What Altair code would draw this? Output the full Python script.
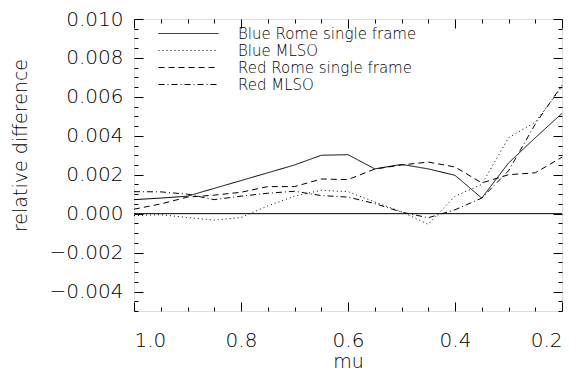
import altair as alt
import pandas as pd

# ---- data ----
mu = [1.00, 0.95, 0.90, 0.85, 0.80, 0.75, 0.70, 0.65, 0.60,
      0.55, 0.50, 0.45, 0.40, 0.35, 0.30, 0.25, 0.20]
blue_rome = [0.00072, 0.00080, 0.00090, 0.00130, 0.00170, 0.00210, 0.00250, 0.00300, 0.00303,
             0.00230, 0.00253, 0.00230, 0.00197, 0.00080, 0.00260, 0.00390, 0.00515]
blue_mlso = [-0.00010, -0.00005, -0.00020, -0.00033, -0.00020, 0.00040, 0.00090, 0.00120, 0.00113,
             0.00060, 0.00010, -0.00055, 0.00090, 0.00150, 0.00390, 0.00470, 0.00650]
red_rome = [0.00023, 0.00050, 0.00085, 0.00095, 0.00110, 0.00139, 0.00139, 0.00178, 0.00175,
            0.00229, 0.00250, 0.00265, 0.00240, 0.00158, 0.00200, 0.00210, 0.00290]
red_mlso = [0.00113, 0.00112, 0.00100, 0.00072, 0.00090, 0.00105, 0.00115, 0.00093, 0.00085,
            0.00052, 0.00008, -0.00021, 0.00020, 0.00080, 0.00220, 0.00460, 0.00660]

series_names = ["Blue Rome single frame", "Blue MLSO", "Red Rome single frame", "Red MLSO"]
series_values = [blue_rome, blue_mlso, red_rome, red_mlso]

zero_mu = [1.0, 0.2]
zero_val = [0.0, 0.0]

x_major = [1.0, 0.8, 0.6, 0.4, 0.2]
y_major = [-0.004, -0.002, 0.000, 0.002, 0.004, 0.006, 0.008, 0.010]
x_ticks = [round(1.0 - 0.05 * i, 2) for i in range(17)]
y_ticks = [round(-0.005 + 0.0005 * i, 4) for i in range(31)]

# ---- styling ----
dash_styles = [[1, 0], [1, 3], [6, 4], [6, 3, 1, 3]]
W, H = 428, 292
FONT = "DejaVu Sans"
WEIGHT = 200

rows = []
for name, vals in zip(series_names, series_values):
    for m, v in zip(mu, vals):
        rows.append({"series": name, "mu": m, "value": v})
df = pd.DataFrame(rows)
zero_df = pd.DataFrame({"mu": zero_mu, "value": zero_val})

xs = alt.Scale(domain=[0.2, 1.0], reverse=True, nice=False, zero=False)
ys = alt.Scale(domain=[-0.005, 0.010], nice=False, zero=False)

x_major_test = "abs(datum.value*5 - round(datum.value*5)) < 1e-6"
y_major_test = "abs(datum.value*500 - round(datum.value*500)) < 1e-6"


def tick_axis_x(orient):
    return alt.Axis(orient=orient, offset=-H, values=x_ticks, labels=False, domain=False,
                    grid=False, ticks=True, tickColor="black", tickWidth=1,
                    tickSize={"condition": {"test": x_major_test, "value": 9}, "value": 4},
                    title=None)


def tick_axis_y(orient):
    return alt.Axis(orient=orient, offset=-W, values=y_ticks, labels=False, domain=False,
                    grid=False, ticks=True, tickColor="black", tickWidth=1,
                    tickSize={"condition": {"test": y_major_test, "value": 9}, "value": 4},
                    title=None)


lines = alt.Chart(df).mark_line(strokeWidth=1, color="black").encode(
    x=alt.X("mu:Q", scale=xs,
            axis=alt.Axis(orient="bottom", values=x_major, format=".1f", ticks=False, tickSize=0,
                          domain=False, grid=False, labelFontSize=20, labelPadding=19,
                          labelBaseline="top", labelColor="black", labelFont=FONT,
                          labelFontWeight=WEIGHT,
                          title="mu", titleFontSize=19, titleFontWeight=WEIGHT, titleFont=FONT,
                          titleColor="black", titleY=50, titleBaseline="middle")),
    y=alt.Y("value:Q", scale=ys,
            axis=alt.Axis(orient="left", values=y_major, format=".3f", ticks=False, tickSize=0,
                          domain=False, grid=False, labelFontSize=20, labelPadding=11,
                          labelColor="black", labelFont=FONT, labelFontWeight=WEIGHT,
                          title="relative difference", titleFontSize=19, titleFontWeight=WEIGHT,
                          titleFont=FONT, titleColor="black", titleX=-114, titleY=126,
                          titleAngle=-90, titleBaseline="middle", titleAlign="center")),
    strokeDash=alt.StrokeDash(
        "series:N",
        scale=alt.Scale(domain=series_names, range=dash_styles),
        legend=alt.Legend(title=None, orient="none", legendX=24, legendY=6,
                          symbolType="stroke", symbolSize=3600, symbolStrokeWidth=1,
                          symbolStrokeColor="black", labelFontSize=15, labelFont=FONT,
                          labelFontWeight=WEIGHT,
                          labelColor="black", clipHeight=17, rowPadding=0, labelOffset=19,
                          padding=0, labelLimit=400)),
)

zero_line = alt.Chart(zero_df).mark_line(strokeWidth=1, color="black").encode(
    x=alt.X("mu:Q", scale=xs, axis=tick_axis_x("top")),
    y=alt.Y("value:Q", scale=ys, axis=tick_axis_y("right")),
)

tick_holder = alt.Chart(zero_df).mark_point(opacity=0).encode(
    x=alt.X("mu:Q", scale=xs, axis=tick_axis_x("bottom")),
    y=alt.Y("value:Q", scale=ys, axis=tick_axis_y("left")),
)

chart = alt.layer(zero_line, lines, tick_holder).resolve_axis(
    x="independent", y="independent"
).properties(
    width=W, height=H, autosize="none",
    padding={"left": 126, "top": 11, "right": 16, "bottom": 62},
).configure_view(stroke="black", strokeWidth=1).configure(font=FONT)

chart.save("out.html", embed_options={"renderer": "svg", "actions": False})
